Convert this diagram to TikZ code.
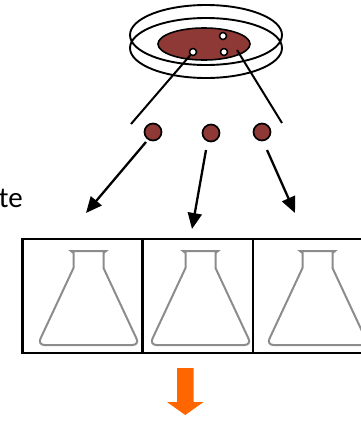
\documentclass[tikz,border=0pt]{standalone}
\usepackage{fontspec}
\setmainfont{Carlito}
\usetikzlibrary{arrows.meta}
\definecolor{colony}{RGB}{143,57,55}
\definecolor{flaskgray}{RGB}{140,140,140}
\definecolor{flow}{RGB}{255,102,0}
\tikzset{
  dishrim/.style={draw=black, line width=1.9pt},
  agar/.style={draw=black, line width=1.6pt, fill=colony},
  pick/.style={circle, draw=black, line width=1.5pt, fill=white, minimum size=7pt, inner sep=0pt},
  colonydot/.style={circle, draw=black, line width=1.7pt, fill=colony, minimum size=17pt, inner sep=0pt},
  guide/.style={draw=black, line width=2pt},
  transfer/.style={draw=black, line width=2.3pt, -{Triangle[length=16pt,width=14pt]}},
  frame/.style={draw=black, line width=2.6pt, minimum height=114pt, inner sep=0pt},
  flask/.style={draw=flaskgray, line width=2pt, rounded corners=7pt},
  bigarrow/.style={fill=flow, draw=none}
}
\begin{document}
\begin{tikzpicture}[x=1pt, y=-1pt]
  \useasboundingbox (0,0) rectangle (361,421);
  \clip (0,0) rectangle (361,421);

  % Petri dish: lid and base rims
  \draw[dishrim] (206,35) ellipse [x radius=76, y radius=30];
  \draw[dishrim] (206,48) ellipse [x radius=76, y radius=30];
  % agar with colonies
  \draw[agar] (204,44) ellipse [x radius=46, y radius=16];
  \node[pick] (p1) at (223,36) {};
  \node[pick] (p2) at (193,52) {};
  \node[pick] (p3) at (224,52) {};

  % guide lines from the plate
  \coordinate (gl) at (131,124);
  \coordinate (gr) at (282,123);
  \coordinate (ga) at (237,50);
  \draw[guide] (p2) -- (gl);
  \draw[guide] (ga) -- (gr);

  % picked colonies
  \node[colonydot] (c1) at (153,132) {};
  \node[colonydot] (c2) at (211,133) {};
  \node[colonydot] (c3) at (262,132) {};

  % transfer arrows
  \coordinate (t1) at (86,213);
  \coordinate (t2) at (192,229);
  \coordinate (t3) at (295,213);
  \coordinate (s1) at (146,142);
  \coordinate (s2) at (206,150);
  \coordinate (s3) at (267,150);
  \draw[transfer] (s1) -- (t1);
  \draw[transfer] (s2) -- (t2);
  \draw[transfer] (s3) -- (t3);

  % label
  \node[anchor=base east, inner sep=0pt, font=\fontsize{29}{32}\selectfont] (lbl) at (23,207) {te};

  % culture flasks in frames
  \node[frame, minimum width=120pt] (b1) at (82.5,296) {};
  \node[frame, minimum width=110pt] (b2) at (198,296) {};
  \node[frame, minimum width=110pt] (b3) at (308,296) {};

  \foreach \cx in {88.5,200.5,317.5}{
    \draw[flask] (\cx-15,268) -- (\cx-51,345) -- (\cx+51,345) -- (\cx+15,268);
    \draw[draw=flaskgray, line width=2pt] (\cx-15,268) -- (\cx-15,253) -- (\cx-17.5,251) -- (\cx+17.5,251) -- (\cx+15,253) -- (\cx+15,268);
  }

  % next step arrow
  \fill[bigarrow] (177,368) -- (193.5,368) -- (193.5,402) -- (203.5,402) -- (185.25,415) -- (167,402) -- (177,402) -- cycle;
\end{tikzpicture}
\end{document}
